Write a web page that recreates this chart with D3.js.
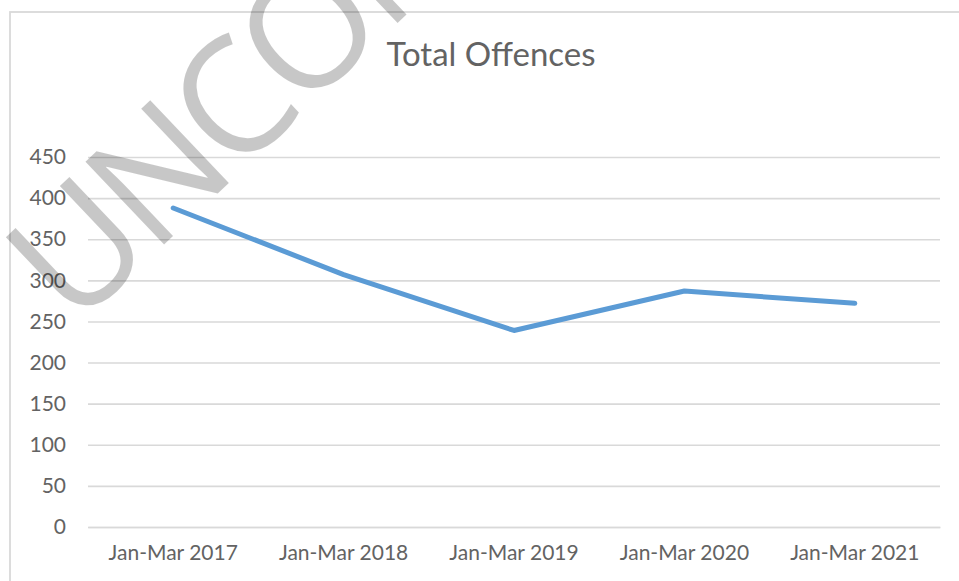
<!DOCTYPE html>
<html>
<head>
<meta charset="utf-8">
<script src="https://cdn.jsdelivr.net/npm/d3@7"></script>
<style>
  html, body { margin: 0; padding: 0; background: #fff; }
  svg { display: block; }
</style>
</head>
<body>
<svg id="chart" width="959" height="581"></svg>
<script>
// Quarterly totals, January–March of each year
const categories = ["Jan-Mar 2017", "Jan-Mar 2018", "Jan-Mar 2019", "Jan-Mar 2020", "Jan-Mar 2021"];
const offences = [388, 307, 239, 287, 272];
const yTicks = [0, 50, 100, 150, 200, 250, 300, 350, 400, 450];
const chartTitle = "Total Offences";
const watermark = "UNCONTROLLED";

const W = 959, H = 581;
const margin = { top: 157, right: 19, bottom: 54, left: 88 };
const labelFont = "Lato, 'Open Sans', sans-serif";
const textColor = "#636363";
const gridColor = "#d9d9d9";

const svg = d3.select("#chart");

// chart area frame
svg.append("rect")
  .attr("x", 10).attr("y", 12)
  .attr("width", 1000).attr("height", 1000)
  .attr("fill", "#fff")
  .attr("stroke", gridColor)
  .attr("stroke-width", 1.8);

const x = d3.scaleBand()
  .domain(categories)
  .range([margin.left, W - margin.right]);

const y = d3.scaleLinear()
  .domain([0, 450])
  .range([H - margin.bottom, margin.top]);

// horizontal gridlines + value labels
const yAxis = d3.axisLeft(y)
  .tickValues(yTicks)
  .tickSize(-(W - margin.right - margin.left))
  .tickPadding(22)
  .tickFormat(d3.format("d"));

const gy = svg.append("g")
  .attr("transform", `translate(${margin.left},0)`)
  .call(yAxis);
gy.select(".domain").remove();
gy.selectAll(".tick line").attr("stroke", gridColor).attr("stroke-width", 1.6);
gy.selectAll(".tick text")
  .attr("fill", textColor)
  .style("font-family", labelFont)
  .style("font-size", "21px");

// category axis
const xAxis = d3.axisBottom(x).tickSize(0).tickPadding(18);
const gx = svg.append("g")
  .attr("transform", `translate(0,${H - margin.bottom})`)
  .call(xAxis);
gx.select(".domain").attr("stroke", gridColor).attr("stroke-width", 1.6);
gx.selectAll(".tick text")
  .attr("fill", textColor)
  .style("font-family", labelFont)
  .style("font-size", "21px");

// title
svg.append("text")
  .attr("x", 491)
  .attr("y", 66)
  .attr("text-anchor", "middle")
  .attr("fill", textColor)
  .style("font-family", labelFont)
  .style("font-size", "33px")
  .text(chartTitle);

// series line
const line = d3.line()
  .x((d, i) => x(categories[i]) + x.bandwidth() / 2)
  .y(d => y(d));

svg.append("path")
  .datum(offences)
  .attr("d", line)
  .attr("fill", "none")
  .attr("stroke", "#5b9bd5")
  .attr("stroke-width", 5)
  .attr("stroke-linecap", "round")
  .attr("stroke-linejoin", "round");

// translucent diagonal stamp across the page
svg.append("text")
  .attr("transform", "translate(74,330) rotate(-43.5)")
  .attr("fill", "#000")
  .attr("fill-opacity", 0.22)
  .style("font-family", "'Open Sans', sans-serif")
  .style("font-weight", 500)
  .style("font-size", "160px")
  .style("letter-spacing", "-8px")
  .text(watermark);
</script>
</body>
</html>
